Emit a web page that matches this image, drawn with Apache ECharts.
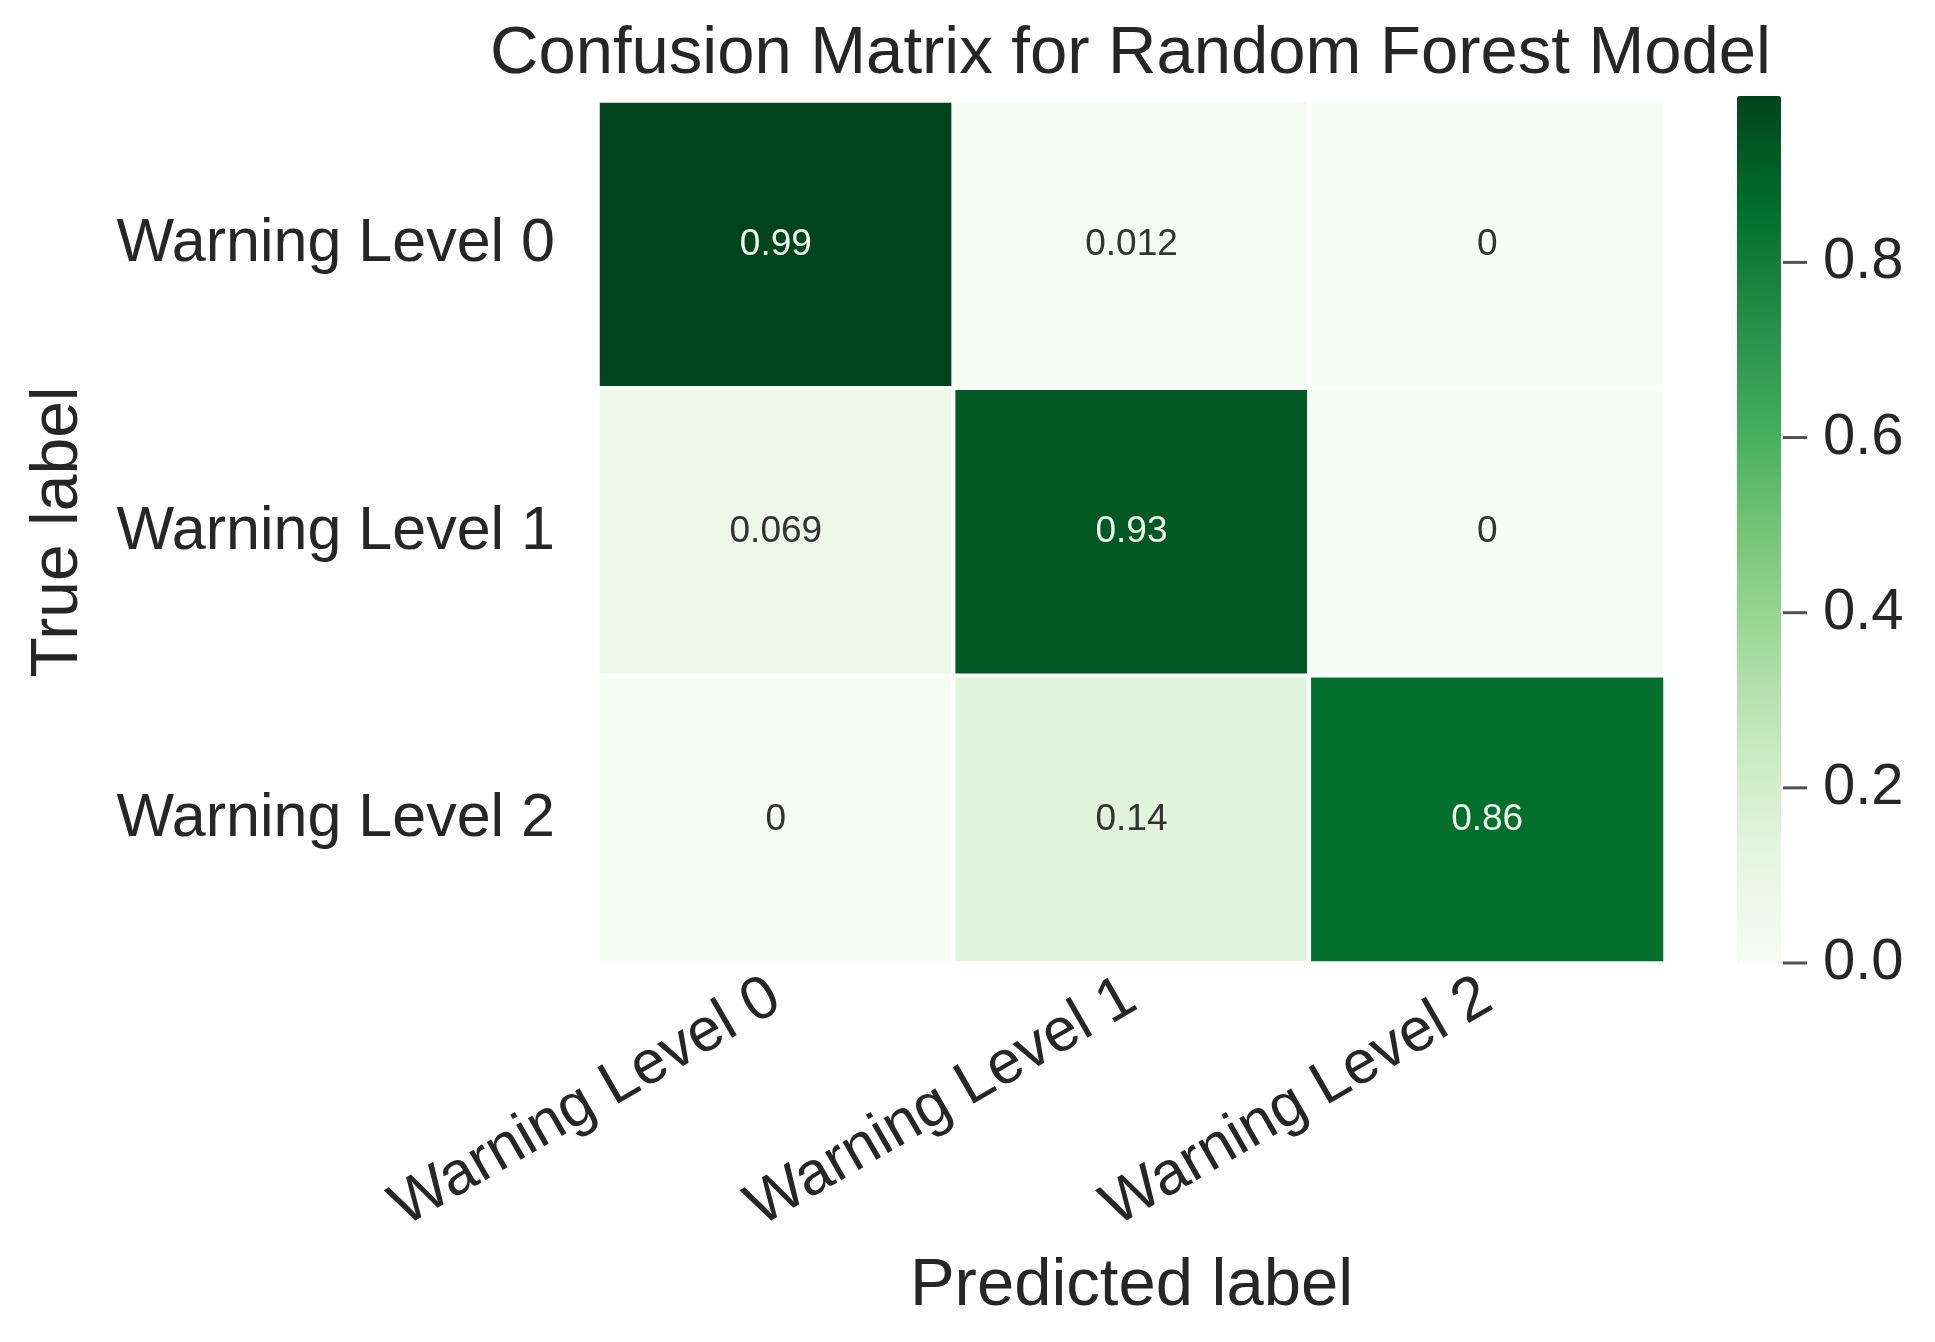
<!DOCTYPE html>
<html lang="en">

<head>
    <meta charset="UTF-8">
    <title>Confusion Matrix for Random Forest Model</title>
    <style>
        body {
            margin: 0;
            background-color: #ffffff;
        }

        #chart {
            width: 1935px;
            height: 1342px;
        }
    </style>
</head>

<body>
    <div id="chart"></div>
    <script src="https://cdn.jsdelivr.net/npm/echarts@6/dist/echarts.min.js"></script>
    <script>
        // labels on both axes
        const categories = ['Warning Level 0', 'Warning Level 1', 'Warning Level 2'];
        // one row per true label, columns are predicted labels
        const row0 = [0.99, 0.012, 0];
        const row1 = [0.069, 0.93, 0];
        const row2 = [0, 0.14, 0.86];
        const colorbarTicks = [0, 0.2, 0.4, 0.6, 0.8];
        const colorbarMax = 0.99;

        const greens = ['#f7fcf5', '#e5f5e0', '#c7e9c0', '#a1d99b', '#74c476',
            '#41ab5d', '#238b45', '#006d2c', '#00441b'];
        const fontFamily = 'Arial, "Liberation Sans", sans-serif';
        const textColor = '#262626';

        const rows = [row0, row1, row2];
        const cells = [];
        rows.forEach(function (row, y) {
            row.forEach(function (v, x) {
                cells.push({
                    value: [x, y, v],
                    label: { color: v > 0.5 ? '#eef6ec' : '#333333' }
                });
            });
        });

        // colorbar tick marks sit on the right edge of the bar
        const tickMarks = colorbarTicks.map(function (t) { return [1, t]; });

        const chart = echarts.init(document.getElementById('chart'));
        chart.setOption({
            animation: false,
            textStyle: { fontFamily: fontFamily },
            title: {
                text: 'Confusion Matrix for Random Forest Model',
                left: 485,
                top: 16,
                textStyle: { fontSize: 67, fontWeight: 'normal', color: textColor, fontFamily: fontFamily }
            },
            grid: [
                { left: 598, right: 270, top: 101, bottom: 379 },
                { left: 1737, width: 44, top: 96, bottom: 379 }
            ],
            xAxis: [
                {
                    type: 'category',
                    gridIndex: 0,
                    data: categories,
                    name: 'Predicted label',
                    nameLocation: 'middle',
                    nameGap: 290,
                    nameTextStyle: { fontSize: 67, color: textColor },
                    axisLine: { show: false },
                    axisTick: { show: false },
                    splitLine: { show: false },
                    axisLabel: { rotate: 30, fontSize: 61, color: textColor, margin: 30, interval: 0 }
                },
                { type: 'value', gridIndex: 1, show: false, min: 0, max: 1 }
            ],
            yAxis: [
                {
                    type: 'category',
                    gridIndex: 0,
                    data: categories,
                    inverse: true,
                    name: 'True label',
                    nameLocation: 'middle',
                    nameGap: 506,
                    nameTextStyle: { fontSize: 66, color: textColor },
                    axisLine: { show: false },
                    axisTick: { show: false },
                    splitLine: { show: false },
                    axisLabel: { fontSize: 61, color: textColor, margin: 43 }
                },
                {
                    type: 'value',
                    gridIndex: 1,
                    position: 'right',
                    min: 0,
                    max: colorbarMax,
                    axisLine: { show: false },
                    splitLine: { show: false },
                    axisTick: { show: false },
                    axisLabel: {
                        customValues: colorbarTicks,
                        fontSize: 58,
                        color: textColor,
                        margin: 42,
                        formatter: function (v) { return v.toFixed(1); }
                    }
                }
            ],
            visualMap: {
                type: 'continuous',
                seriesIndex: 0,
                min: 0,
                max: colorbarMax,
                calculable: false,
                hoverLink: false,
                inRange: { color: greens },
                itemWidth: 44,
                itemHeight: 867,
                left: 1737,
                top: 96,
                padding: 0,
                text: null,
                showLabel: false
            },
            series: [
                {
                    type: 'heatmap',
                    xAxisIndex: 0,
                    yAxisIndex: 0,
                    data: cells,
                    itemStyle: { borderColor: '#ffffff', borderWidth: 4 },
                    label: {
                        show: true,
                        fontSize: 37,
                        formatter: function (p) { return String(p.value[2]); }
                    }
                },
                {
                    type: 'scatter',
                    xAxisIndex: 1,
                    yAxisIndex: 1,
                    data: tickMarks,
                    symbol: 'rect',
                    symbolSize: [24, 3],
                    symbolOffset: [14, 0],
                    itemStyle: { color: textColor },
                    silent: true,
                    clip: false
                }
            ]
        });
    </script>
</body>

</html>
